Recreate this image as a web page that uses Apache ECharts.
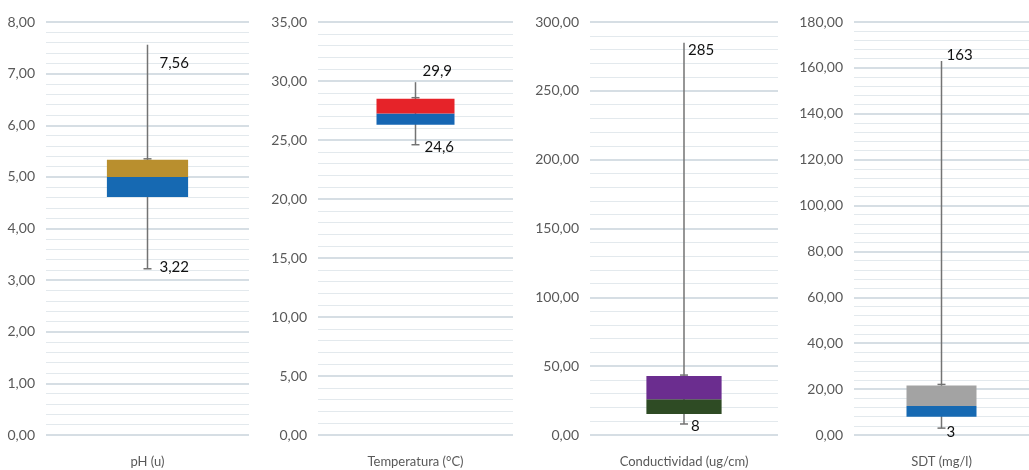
<!DOCTYPE html>
<html>
<head>
<meta charset="utf-8">
<script src="https://cdn.jsdelivr.net/npm/echarts@6/dist/echarts.min.js"></script>
<style>
  html, body { margin: 0; padding: 0; background: #ffffff; }
  #chart { width: 1029px; height: 470px; }
</style>
</head>
<body>
<div id="chart"></div>
<script>
// Water-quality parameters: five-number summary per parameter
const categories   = ['pH (u)', 'Temperatura (°C)', 'Conductividad (ug/cm)', 'SDT (mg/l)'];
const minValues    = [3.22, 24.6, 8, 3];
const q1Values     = [4.61, 26.3, 15.2, 8.0];
const medianValues = [5.0, 27.25, 25.9, 12.6];
const q3Values     = [5.33, 28.5, 42.8, 21.6];
const maxValues    = [7.56, 29.9, 285, 163];

// Value axis range per panel
const axisMax  = [8, 35, 300, 180];
const axisStep = [1, 5, 50, 20];

// Appearance
const lowerColors = ['#1669B2', '#1666B3', '#2E4B24', '#1669B2'];
const upperColors = ['#B98F2E', '#E62329', '#6B2D8F', '#A3A3A3'];
const panels = [
  { left: 46,  width: 203 },
  { left: 318, width: 195 },
  { left: 590, width: 188 },
  { left: 854, width: 188 }
];
const maxLabelOffset = [[12, 18], [7, -11], [4, 8], [5, -6]];
const minLabelOffset = [[12, -2], [9, 2], [7, 2], [5, 4]];

const FONT = 'Lato, "Open Sans", sans-serif';
const fmtAxis = v => v.toFixed(2).replace('.', ',');
const fmtValue = v => String(v).replace('.', ',');

const grids = [], xAxes = [], yAxes = [], series = [];

// Whisker from min to max, end caps and the min/max value labels
function whiskerRenderer(i) {
  return function (params, api) {
    const top = api.coord([0, maxValues[i]]);
    const bottom = api.coord([0, minValues[i]]);
    const boxTop = api.coord([0, q3Values[i]]);
    const x = top[0];
    const stroke = { stroke: '#737373', lineWidth: 1.5 };
    const textStyle = (text, px, py) => ({
      type: 'text',
      style: { text, x: px, y: py, fill: '#111111', font: '15px ' + FONT, align: 'left', verticalAlign: 'middle' }
    });
    return {
      type: 'group',
      children: [
        { type: 'line', shape: { x1: x, y1: top[1], x2: x, y2: bottom[1] }, style: stroke },
        { type: 'line', shape: { x1: x - 4, y1: bottom[1], x2: x + 4, y2: bottom[1] }, style: stroke },
        { type: 'line', shape: { x1: x - 4, y1: boxTop[1] - 1, x2: x + 4, y2: boxTop[1] - 1 }, style: stroke },
        textStyle(fmtValue(maxValues[i]), x + maxLabelOffset[i][0], top[1] + maxLabelOffset[i][1]),
        textStyle(fmtValue(minValues[i]), x + minLabelOffset[i][0], bottom[1] + minLabelOffset[i][1])
      ]
    };
  };
}

categories.forEach((cat, i) => {
  grids.push({ left: panels[i].left, width: panels[i].width, top: 22, height: 413 });
  xAxes.push({
    type: 'category', gridIndex: i, data: [cat],
    axisLine: { show: false }, axisTick: { show: false },
    axisLabel: { color: '#595959', fontSize: 13, fontFamily: FONT, margin: 20 }
  });
  yAxes.push({
    type: 'value', gridIndex: i, min: 0, max: axisMax[i], interval: axisStep[i],
    axisLine: { show: false }, axisTick: { show: false },
    axisLabel: { color: '#595959', fontSize: 14, fontFamily: FONT, margin: 11, formatter: fmtAxis },
    splitLine: { lineStyle: { color: '#C8D3DB', width: 1.6 } },
    minorTick: { show: false, splitNumber: 5 },
    minorSplitLine: { show: true, lineStyle: { color: '#E3E9ED', width: 1.2 } }
  });

  series.push({
    type: 'custom', xAxisIndex: i, yAxisIndex: i, z: 1,
    renderItem: whiskerRenderer(i), data: [[0, minValues[i], maxValues[i]]], silent: true
  });
  // Box: transparent base up to Q1, then Q1→median and median→Q3 segments
  const stackName = 'box' + i;
  series.push({
    type: 'bar', xAxisIndex: i, yAxisIndex: i, stack: stackName, barWidth: '40%', z: 2,
    itemStyle: { color: 'transparent' }, data: [q1Values[i]], silent: true
  });
  series.push({
    type: 'bar', xAxisIndex: i, yAxisIndex: i, stack: stackName, barWidth: '40%', z: 2,
    itemStyle: { color: lowerColors[i] }, data: [+(medianValues[i] - q1Values[i]).toFixed(4)], silent: true
  });
  series.push({
    type: 'bar', xAxisIndex: i, yAxisIndex: i, stack: stackName, barWidth: '40%', z: 2,
    itemStyle: { color: upperColors[i] }, data: [+(q3Values[i] - medianValues[i]).toFixed(4)], silent: true
  });
});

const chart = echarts.init(document.getElementById('chart'), null, { renderer: 'canvas' });
chart.setOption({
  animation: false,
  backgroundColor: '#ffffff',
  grid: grids,
  xAxis: xAxes,
  yAxis: yAxes,
  series: series
});
</script>
</body>
</html>
